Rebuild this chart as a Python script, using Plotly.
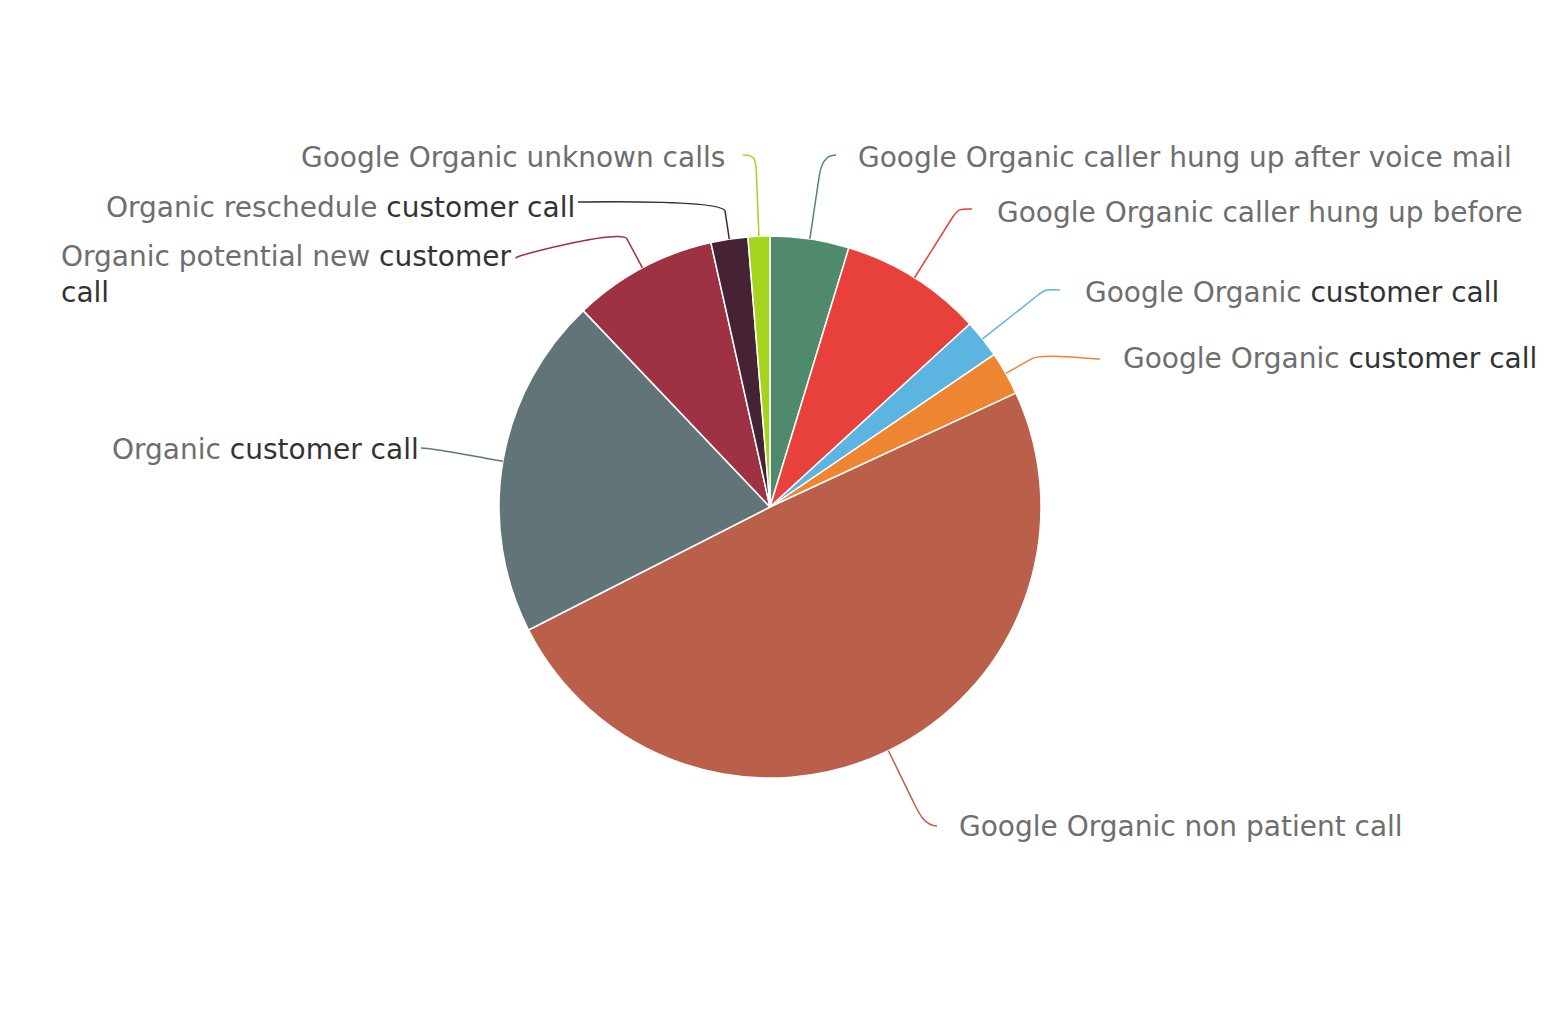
import math
import re
import plotly.graph_objects as go

# ---------------- data ----------------
categories = [
    "Google Organic caller hung up after voice mail",
    "Google Organic caller hung up before",
    "Google Organic customer call",
    "Google Organic customer call",
    "Google Organic non patient call",
    "Organic customer call",
    "Organic potential new customer call",
    "Organic reschedule customer call",
    "Google Organic unknown calls",
]
values = [4.7, 8.5, 2.3, 2.6, 49.4, 20.4, 8.6, 2.2, 1.3]

# ---------------- style / layout ----------------
colors = ["#4f8a6c", "#e8413b", "#5bb5e0", "#ee8631", "#ba604a",
          "#617478", "#9e3142", "#462334", "#a4d41e"]

OFF = 8                      # page body margin
W, H = 1548 - 2 * OFF, 1010 - 2 * OFF
CX, CY, R = 770, 507, 271

label_wrap = [c for c in categories]
label_wrap[6] = "Organic potential new customer<br>call"
text_pos = [(856, 157, "left"), (995, 212, "left"), (1083, 292, "left"),
            (1121, 358, "left"), (957, 826, "left"), (421, 449, "right"),
            (59, 275, "left"), (577, 207, "right"), (727, 157, "right")]
conn_end = [(836, 155), (972, 209), (1060, 290), (1100, 359), (937, 826),
            (421, 448), (517, 258), (578, 202), (743, 155)]
break_dist = [62, 70, 70, 30, 58, 18, 33, 28, 65]
label_font = "DejaVu Sans"
label_size = 28
grey = "#6e6e6e"
dark = "#333333"


def px(x, y):
    return (x - OFF) / W, 1 - (y - OFF) / H


def styled(t):
    return re.sub(r"customer(\s|<br>)call",
                  lambda m: f"<span style='color:{dark}'>customer</span>{m.group(1)}"
                            f"<span style='color:{dark}'>call</span>", t)


fig = go.Figure()
x0, y1 = px(CX - R, CY - R)
x1, y0 = px(CX + R, CY + R)
fig.add_trace(go.Pie(
    labels=[f"{c} #{i+1}" for i, c in enumerate(categories)],
    values=values,
    text=categories,
    hoverinfo="text+percent",
    textinfo="none",
    sort=False,
    direction="clockwise",
    rotation=0,
    marker=dict(colors=colors, line=dict(color="white", width=1.5)),
    domain=dict(x=[x0, x1], y=[y0, y1]),
    showlegend=False,
))

total = sum(values)
cum = 0.0
shapes = []
annotations = []
for i, v in enumerate(values):
    mid = (cum + v / 2) / total * 2 * math.pi
    cum += v
    ux, uy = math.sin(mid), -math.cos(mid)
    T = (CX + R * ux, CY + R * uy)
    d = break_dist[i]
    B = (T[0] + d * ux, T[1] + d * uy)
    c1 = (B[0] + 12 * ux, B[1] + 12 * uy)
    L = conn_end[i]
    side = 1 if text_pos[i][2] == "left" else -1
    c2 = (L[0] - side * 12, L[1])
    pts = [px(*p) for p in (T, B, c1, c2, L)]
    path = (f"M {pts[0][0]} {pts[0][1]} L {pts[1][0]} {pts[1][1]} "
            f"C {pts[2][0]} {pts[2][1]}, {pts[3][0]} {pts[3][1]}, {pts[4][0]} {pts[4][1]}")
    shapes.append(dict(type="path", path=path, xref="paper", yref="paper",
                       line=dict(color=colors[i], width=1.5)))
    tx, ty, anc = text_pos[i]
    ax, ay = px(tx, ty)
    annotations.append(dict(
        x=ax, y=ay, xref="paper", yref="paper", xanchor=anc, yanchor="middle",
        align="left", showarrow=False, text=styled(label_wrap[i]),
        font=dict(family=label_font, size=label_size, color=grey),
    ))

fig.update_layout(
    width=W, height=H,
    margin=dict(l=0, r=0, t=0, b=0),
    paper_bgcolor="white", plot_bgcolor="white",
    shapes=shapes, annotations=annotations,
    showlegend=False,
)

fig.write_html("out.html")
